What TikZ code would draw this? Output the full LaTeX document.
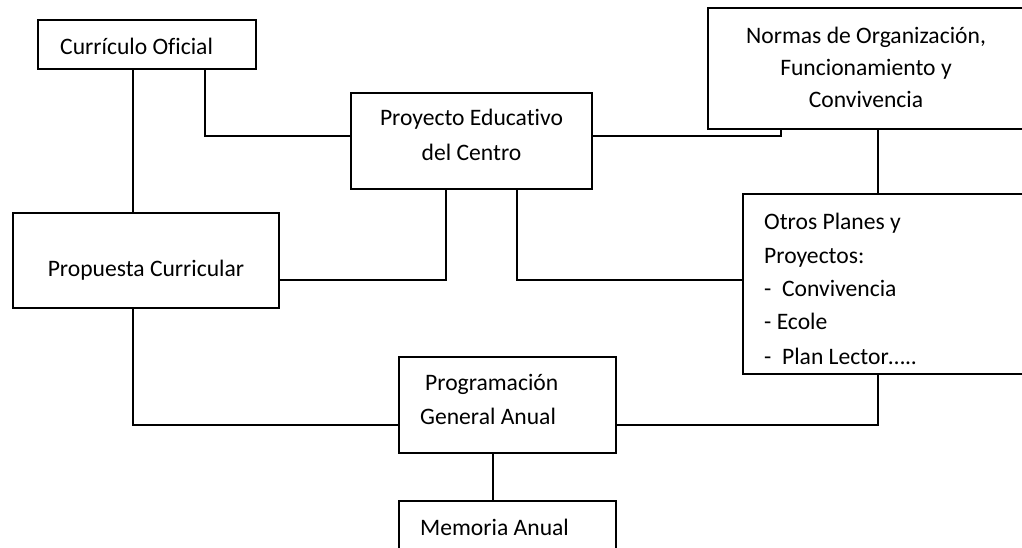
\documentclass[tikz,border=0pt]{standalone}
\usepackage{fontspec}
\setmainfont{Carlito}[Ligatures={NoCommon,NoRare,NoContextual}]
\begin{document}
\begin{tikzpicture}[x=1pt,y=-1pt,
  box/.style={draw=black,line width=1.6pt,inner sep=0pt,fill=white},
  lbl/.style={inner sep=0pt,font=\fontsize{23.6}{34}\selectfont},
  link/.style={draw=black,line width=1.6pt}]
\useasboundingbox (0,0) rectangle (1022,548);
% boxes
\node[box,minimum width=218,minimum height=49] (cur) at (147,44.5) {};
\node[box,minimum width=241,minimum height=96] (pec) at (471.5,141) {};
\node[box,minimum width=316,minimum height=121] (nof) at (866,68.5) {};
\node[box,minimum width=281,minimum height=180] (otros) at (883.5,284) {};
\node[box,minimum width=266,minimum height=95] (prop) at (146,260.5) {};
\node[box,minimum width=217,minimum height=96] (pga) at (507.5,405) {};
\node[box,minimum width=217,minimum height=69] (mem) at (507.5,535.5) {};
% texts
\node[lbl,anchor=base west] (tcur) at (60,54.5) {Currículo Oficial};
\node[lbl,anchor=base] (tpec1) at (471.5,125.5) {Proyecto Educativo};
\node[lbl,anchor=base] (tpec2) at (471.5,160.5) {del Centro};
\node[lbl,anchor=base] (tnof1) at (866,44) {Normas de Organización,};
\node[lbl,anchor=base] (tnof2) at (866,76) {Funcionamiento y};
\node[lbl,anchor=base] (tnof3) at (866,107.5) {Convivencia};
\node[lbl,anchor=base west] (tot1) at (764,229.5) {Otros Planes y};
\node[lbl,anchor=base west] (tot2) at (764,263.5) {Proyectos:};
\node[lbl,anchor=base west] (tot3) at (764,296) {-\ \ Convivencia};
\node[lbl,anchor=base west] (tot4) at (764,329.5) {- Ecole};
\node[lbl,anchor=base west] (tot5) at (764,364.5) {-\ \ Plan Lector…..};
\node[lbl,anchor=base] (tprop) at (146,276.5) {Propuesta Curricular};
\node[lbl,anchor=base west] (tpga1) at (425,390.5) {Programación};
\node[lbl,anchor=base west] (tpga2) at (420,424.5) {General Anual};
\node[lbl,anchor=base west] (tmem) at (420,535) {Memoria Anual};
% bend coordinates
\coordinate (b0) at (133,0);
\coordinate (b1) at (205,136);
\coordinate (b2) at (781,136);
\coordinate (b3) at (878,0);
\coordinate (b4) at (446,280);
\coordinate (b5) at (517,280);
\coordinate (b6) at (133,425);
\coordinate (b7) at (878,425);
\coordinate (b8) at (493,0);
% connectors
\draw[link] (cur.south -| b0) -- (prop.north -| b0);
\draw[link] (cur.south -| b1) |- (pec.west |- b1);
\draw[link] (pec.east |- b2) -| (nof.south -| b2);
\draw[link] (nof.south -| b3) -- (otros.north -| b3);
\draw[link] (pec.south -| b4) |- (prop.east |- b4);
\draw[link] (pec.south -| b5) |- (otros.west |- b5);
\draw[link] (prop.south -| b6) |- (pga.west |- b6);
\draw[link] (otros.south -| b7) |- (pga.east |- b7);
\draw[link] (pga.south -| b8) -- (mem.north -| b8);
\end{tikzpicture}
\end{document}
